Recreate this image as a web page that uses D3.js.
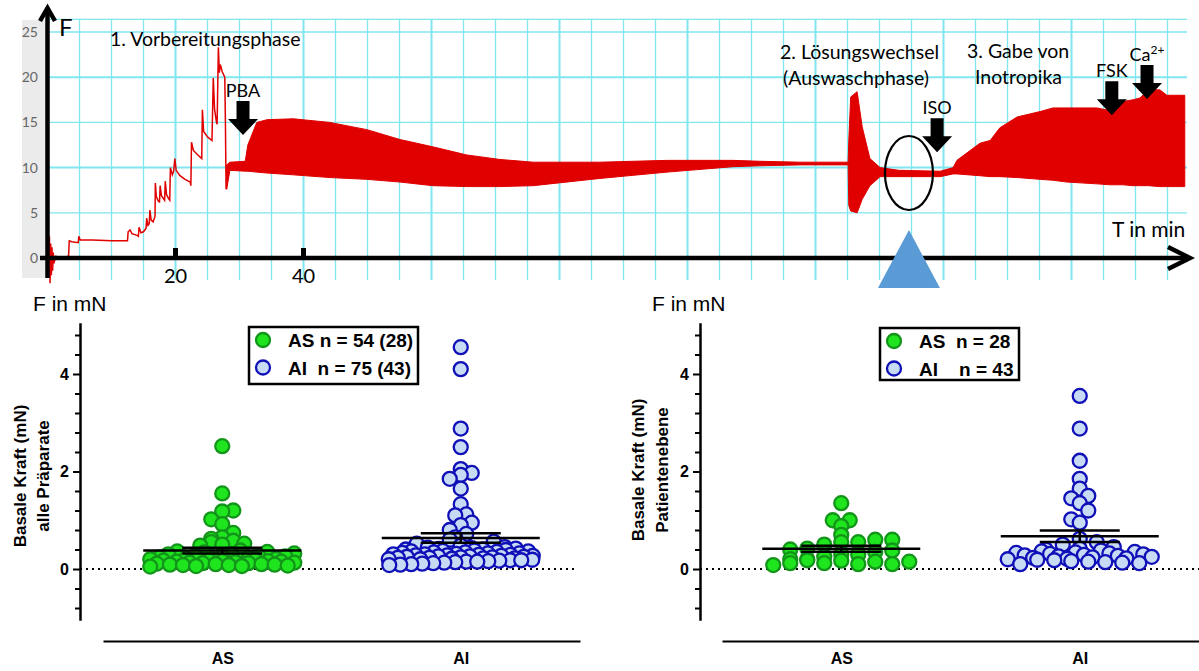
<!DOCTYPE html>
<html>
<head>
<meta charset="utf-8">
<script src="https://cdn.jsdelivr.net/npm/d3@7"></script>
<style>
  body { margin: 0; background: #fff; }
  svg { display: block; }
  text { white-space: pre; }
</style>
</head>
<body>
<script>
// ---------- top trace data (time in min, force) ----------
var prepTrace = [
  [0,0],[0.1,1.8],[0.2,-2.2],[0.3,2.4],[0.4,-2.8],[0.5,1.6],[0.6,-1.9],[0.7,1.2],[0.8,-1.4],[0.9,0.6],
  [1.0,-0.6],[1.3,0.2],[2.0,0],[3.0,0],[3.3,0.3],[3.4,1.9],[3.8,1.8],[4.8,1.7],[4.9,2.4],[5.1,2.0],
  [7,2.0],[10,1.9],[12.5,1.9],[12.6,2.9],[12.9,3.1],[13.2,2.7],[14.0,2.5],[14.2,2.4],[14.3,3.4],[14.6,2.8],
  [15.0,2.9],[15.4,3.3],[15.5,4.4],[15.7,3.6],[15.9,3.8],[16.0,5.3],[16.2,4.2],[16.5,4.0],[16.8,4.6],[16.85,8.3],
  [17.0,6.8],[17.3,6.3],[17.5,6.2],[17.6,8.0],[17.8,6.9],[18.3,6.4],[18.4,8.5],[18.6,7.0],[18.9,6.6],[19.1,6.4],
  [19.2,10.0],[19.5,9.2],[19.7,9.6],[19.9,11.0],[20.1,9.7],[20.7,9.1],[21.5,8.7],[22.3,8.4],[22.4,8.0],[22.5,12.8],
  [22.8,11.9],[23.5,11.4],[24.1,11.0],[24.2,16.4],[24.4,14.0],[25.0,13.4],[25.7,13.0],[25.9,19.9],[26.1,16.5],[26.4,15.0],
  [26.5,14.8],[26.7,23.3],[26.85,20.5],[27.0,21.4],[27.3,20.6],[27.7,20.0],[27.8,15],[27.9,7.6],[28.0,9.8]
];
// envelope of the oscillating part
var bandT  = [28.0,28.5,30.9,31.3,32.7,34.3,38.4,44.1,49.9,55.1,60.2,65.5,70.7,75.9,86.3,96.8,107.1,111.3,117.6,125.1,
              125.2,125.5,126.5,127.3,128.5,130.1,133.0,139.5,141.5,142.1,145.7,147.3,148.8,151.5,155.1,157.1,159.3,164.0,166.0,168.0,
              169.6,170.7,172.0,173.8,174.9,177.7];
var bandHi = [10.3,10.6,10.7,12.5,15.0,15.3,15.4,15.0,14.2,13.1,12.3,11.4,10.9,10.6,10.6,10.8,10.8,10.7,10.6,10.6,
              13.0,17.8,18.4,14.5,11.0,10.0,9.7,9.6,10.0,10.8,12.7,13.0,14.4,15.6,16.2,16.6,16.6,16.6,16.3,17.3,
              17.5,17.7,18.6,18.6,18.0,18.0];
var bandLo = [7.6,9.7,9.6,9.6,9.5,9.4,9.2,8.9,8.7,8.4,8.0,7.9,7.9,8.0,8.8,9.5,10.1,10.2,10.3,10.3,
              5.8,5.2,5.0,6.5,8.0,9.0,9.0,9.0,9.3,9.3,9.1,9.0,9.0,8.9,8.7,8.6,8.4,8.2,8.1,8.1,
              8.0,8.0,8.0,7.9,7.9,7.9];
var forceTicks = [0, 5, 10, 15, 20, 25];
var timeLabels = [20, 40];
var events = [
  {label: "PBA", t: 30.55, f: 13.6},
  {label: "ISO", t: 139.0, f: 11.7},
  {label: "FSK", t: 166.3, f: 15.8},
  {label: "Ca",  t: 171.8, f: 17.6, sup: "2+"}
];
var washMark = {t: 134.6, f: 9.4};

// ---------- bottom scatter data (mN) ----------
var groups = ["AS", "AI"];
var allAS = [2.52,1.55,1.20,1.18,1.02,0.92,0.74,0.65,0.62,0.58,0.55,0.52,0.50,0.48,
  0.38,0.36,0.35,0.34,0.32,0.30,0.30,0.28,0.27,0.26,0.25,0.24,0.23,0.22,0.21,0.20,0.20,0.19,0.18,0.17,
  0.16,0.16,0.15,0.15,0.14,0.13,0.13,0.12,0.12,0.11,0.10,0.10,0.09,0.09,0.08,0.08,0.07,0.06,0.06,0.05];
var allAI = [4.55,4.10,2.88,2.50,2.05,1.97,1.93,1.85,1.65,1.33,1.12,1.10,0.95,0.90,0.80,0.72,0.65,0.60,0.56,0.52,0.48,
  0.45,0.44,0.43,0.42,0.41,0.40,0.40,0.39,0.38,0.37,0.36,0.36,0.35,0.34,0.34,0.33,0.32,0.32,0.31,0.30,
  0.30,0.29,0.29,0.28,0.28,0.27,0.27,0.26,0.26,0.25,0.25,0.24,0.24,0.23,0.23,0.22,0.22,0.21,0.20,0.20,
  0.19,0.18,0.18,0.17,0.16,0.15,0.15,0.14,0.13,0.12,0.11,0.10,0.09,0.08];
var patAS = [1.35,1.00,1.00,0.88,0.70,0.60,0.60,0.55,0.55,0.50,0.42,0.40,0.38,0.35,
  0.30,0.30,0.25,0.20,0.20,0.18,0.17,0.15,0.15,0.12,0.12,0.10,0.10,0.08];
var patAI = [3.55,2.88,2.22,1.85,1.65,1.50,1.45,1.35,1.20,1.02,0.95,0.62,0.55,0.50,0.45,
  0.42,0.40,0.38,0.36,0.35,0.34,0.33,0.32,0.31,0.30,0.29,0.28,0.27,0.26,0.25,0.24,0.23,0.22,0.21,0.20,
  0.19,0.18,0.16,0.15,0.14,0.13,0.12,0.10];
var legendAll = ["AS n = 54 (28)", "AI  n = 75 (43)"];
var legendPat = ["AS  n = 28", "AI    n = 43"];
var majorTicks = [0, 2, 4];
var minorTicks = [-0.8,-0.4,0.4,0.8,1.2,1.6,2.4,2.8,3.2,3.6,4.4,4.8];

var RED = "#e00000", GRID = "#80e6f0";
var colors = {
  AS: {fill: "#1fe51f", stroke: "#13951a"},
  AI: {fill: "#c7dbf4", stroke: "#1010b8"}
};

var svg = d3.select("body").append("svg").attr("width", 1199).attr("height", 671);

// =============== top panel ===============
var x = d3.scaleLinear().domain([0, 175]).range([47.5, 1167.5]);
var y = d3.scaleLinear().domain([0, 25]).range([258, 32]);
var tp = svg.append("g").style("font-family", "Lato, 'Open Sans', sans-serif");

tp.append("rect").attr("x", 22).attr("y", 20).attr("width", 25).attr("height", 258).attr("fill", "#ebebeb");

// grid
tp.append("g").selectAll("line").data(d3.range(5, 180, 5)).join("line")
    .attr("x1", function(d) { return x(d); }).attr("x2", function(d) { return x(d); })
    .attr("y1", 19).attr("y2", 280)
    .attr("stroke", GRID).attr("stroke-width", function(d) { return d % 20 === 0 ? 2 : 1.3; });
tp.append("g").selectAll("line").data([5, 10, 15, 20, 25, 26.4]).join("line")
    .attr("x1", 47).attr("x2", 1187)
    .attr("y1", function(d) { return y(d); }).attr("y2", function(d) { return y(d); })
    .attr("stroke", GRID).attr("stroke-width", function(d) { return d % 10 === 0 ? 2 : 1.3; });

tp.append("g").selectAll("text").data(forceTicks).join("text")
    .attr("x", 38).attr("y", function(d) { return y(d) + 5; })
    .attr("text-anchor", "end").attr("font-size", 14).attr("fill", "#666")
    .text(function(d) { return d; });

// trace
var band = d3.range(bandT.length).map(function(i) { return {t: bandT[i], hi: bandHi[i], lo: bandLo[i]}; });
tp.append("path").datum(band)
    .attr("d", d3.area().x(function(d) { return x(d.t); }).y0(function(d) { return y(d.lo); }).y1(function(d) { return y(d.hi); }))
    .attr("fill", RED).attr("stroke", RED).attr("stroke-width", 1);
tp.append("path").datum(prepTrace)
    .attr("d", d3.line().x(function(d) { return x(d[0]); }).y(function(d) { return y(d[1]); }))
    .attr("fill", "none").attr("stroke", RED).attr("stroke-width", 1.5);

// axes with arrows
tp.append("line").attr("x1", 40).attr("x2", 1189).attr("y1", y(0)).attr("y2", y(0))
    .attr("stroke", "#000").attr("stroke-width", 4.5);
tp.append("path").attr("d", "M1168,247L1190," + y(0) + "L1168,269")
    .attr("fill", "none").attr("stroke", "#000").attr("stroke-width", 4.5);
tp.append("line").attr("x1", 47.5).attr("x2", 47.5).attr("y1", 278).attr("y2", 8)
    .attr("stroke", "#000").attr("stroke-width", 4.5);
tp.append("path").attr("d", "M40,21L47.5,8L55,21")
    .attr("fill", "none").attr("stroke", "#000").attr("stroke-width", 4.5);
tp.selectAll(".tmark").data(timeLabels).join("rect").attr("class", "tmark")
    .attr("x", function(d) { return x(d) - 2.5; }).attr("y", 248).attr("width", 5).attr("height", 10);
tp.selectAll(".tlab").data(timeLabels).join("text").attr("class", "tlab")
    .attr("x", function(d) { return x(d); }).attr("y", 283)
    .attr("text-anchor", "middle").attr("font-size", 20).text(function(d) { return d; });

tp.append("text").attr("x", 59).attr("y", 36).attr("font-size", 24).text("F");
tp.append("text").attr("x", 1112).attr("y", 237).attr("font-size", 21).text("T in min");

var phaseText = [
  {x: 110, y: 46, s: "1. Vorbereitungsphase"},
  {x: 780, y: 59, s: "2. Lösungswechsel"},
  {x: 783, y: 85, s: "(Auswaschphase)"},
  {x: 967, y: 58, s: "3. Gabe von"},
  {x: 975, y: 84, s: "Inotropika"}
];
tp.selectAll(".phase").data(phaseText).join("text").attr("class", "phase")
    .attr("x", function(d) { return d.x; }).attr("y", function(d) { return d.y; })
    .attr("font-size", 19.5).text(function(d) { return d.s; });

// event arrows
events.forEach(function(e) {
  var tx = x(e.t), ty = y(e.f);
  var hl = 16, hw = 15, sw = 6.5, sl = 18;
  tp.append("path")
      .attr("d", "M" + tx + "," + ty + "L" + (tx - hw) + "," + (ty - hl) + "L" + (tx - sw) + "," + (ty - hl) +
                 "L" + (tx - sw) + "," + (ty - hl - sl) + "L" + (tx + sw) + "," + (ty - hl - sl) +
                 "L" + (tx + sw) + "," + (ty - hl) + "L" + (tx + hw) + "," + (ty - hl) + "Z")
      .attr("fill", "#000");
  var t = tp.append("text").attr("x", tx).attr("y", ty - hl - sl - 4)
      .attr("text-anchor", "middle").attr("font-size", 18).text(e.label);
  if (e.sup) t.append("tspan").attr("font-size", 12).attr("dy", -7).text(e.sup);
});

// wash-out marker
tp.append("ellipse").attr("cx", x(washMark.t)).attr("cy", y(washMark.f)).attr("rx", 24).attr("ry", 37)
    .attr("fill", "none").attr("stroke", "#000").attr("stroke-width", 2.2);
tp.append("path")
    .attr("d", "M" + x(washMark.t) + ",230L" + (x(washMark.t) + 31) + ",288L" + (x(washMark.t) - 31) + ",288Z")
    .attr("fill", "#5b9bd5");

// =============== bottom panels ===============
// binned scatter layout: points of similar value sit side by side in a row
function spread(values, cx, ys, step, maxHalf, binSize) {
  var bins = d3.groups(values, function(v) { return Math.floor(v / binSize); });
  var out = [];
  bins.forEach(function(b) {
    var vs = b[1].slice().sort(d3.ascending);
    var n = vs.length;
    var s = n > 1 ? Math.min(step, 2 * maxHalf / (n - 1)) : 0;
    // slots from left to right, filled in an interleaved order
    var slots = d3.range(n).map(function(i) { return (i - (n - 1) / 2) * s; });
    vs.forEach(function(v, i) {
      var slot = (i * 7) % n;
      if (n % 7 === 0) slot = i;
      out.push({v: v, y: ys(v), x: cx + slots[slot]});
    });
  });
  out.sort(function(a, b) { return b.v - a.v; });
  return out;
}

function drawPanel(p) {
  var g = svg.append("g").style("font-family", "'Liberation Sans', Arial, sans-serif");
  var ys = d3.scaleLinear().domain([-1.05, 5.05]).range([620.2, 322.8]);
  var xs = d3.scalePoint().domain(groups).range([p.x0, p.x1]).padding(0.5);

  g.append("text").attr("x", p.fx).attr("y", 311).attr("font-size", 21).text("F in mN");

  var ya = g.append("g").attr("transform", "translate(" + p.axisX + ",0)")
      .call(d3.axisLeft(ys).tickValues(majorTicks).tickFormat(d3.format("d")).tickSize(7).tickSizeOuter(0).tickPadding(4));
  ya.select(".domain").attr("stroke-width", 2.5);
  ya.selectAll(".tick line").attr("stroke-width", 2);
  ya.selectAll(".tick text").attr("font-size", 16).attr("font-weight", "bold").attr("font-family", "'Liberation Sans', Arial, sans-serif");
  var ym = g.append("g").attr("transform", "translate(" + p.axisX + ",0)")
      .call(d3.axisLeft(ys).tickValues(minorTicks).tickFormat("").tickSize(5).tickSizeOuter(0));
  ym.select(".domain").remove();
  ym.selectAll(".tick line").attr("stroke-width", 2);

  p.titles.forEach(function(t, i) {
    g.append("text").attr("transform", "translate(" + p.titleX[i] + "," + p.titleY + ") rotate(-90)")
        .attr("text-anchor", "middle").attr("dy", "0.35em")
        .attr("font-size", 17).attr("font-weight", "bold").text(t);
  });

  g.append("line").attr("x1", p.axisX).attr("x2", p.zeroEnd).attr("y1", ys(0)).attr("y2", ys(0))
      .attr("stroke", "#000").attr("stroke-width", 2).attr("stroke-dasharray", "2,4");

  var xa = g.append("g").attr("transform", "translate(0,641)")
      .call(d3.axisBottom(xs).tickSize(0).tickSizeOuter(0).tickPadding(12));
  xa.select(".domain").attr("stroke-width", 2);
  xa.selectAll(".tick text").attr("font-size", 16).attr("font-weight", "bold").attr("font-family", "'Liberation Sans', Arial, sans-serif");

  groups.forEach(function(grp, gi) {
    var vals = p.data[gi];
    var cx = xs(grp);
    var pts = spread(vals, cx, ys, p.step, 72, 0.2);
    g.append("g").selectAll("circle").data(pts).join("circle")
        .attr("cx", function(d) { return d.x; }).attr("cy", function(d) { return d.y; }).attr("r", 7)
        .attr("fill", colors[grp].fill).attr("stroke", colors[grp].stroke).attr("stroke-width", 2.3);
    var m = d3.mean(vals), se = d3.deviation(vals) / Math.sqrt(vals.length);
    g.append("line").attr("x1", cx - 79).attr("x2", cx + 79).attr("y1", ys(m)).attr("y2", ys(m))
        .attr("stroke", "#000").attr("stroke-width", 2.5);
    [m - se, m + se].forEach(function(v) {
      g.append("line").attr("x1", cx - 40).attr("x2", cx + 40).attr("y1", ys(v)).attr("y2", ys(v))
          .attr("stroke", "#000").attr("stroke-width", 2.5);
    });
    g.append("line").attr("x1", cx).attr("x2", cx).attr("y1", ys(m - se)).attr("y2", ys(m + se))
        .attr("stroke", "#000").attr("stroke-width", 2.5);
  });

  // legend
  var lg = g.append("g");
  lg.append("rect").attr("x", p.legend.x).attr("y", p.legend.y).attr("width", p.legend.w).attr("height", p.legend.h)
      .attr("fill", "#fff").attr("stroke", "#000").attr("stroke-width", 2.5);
  groups.forEach(function(grp, gi) {
    var cy = p.legend.y + 13 + gi * 27.5;
    lg.append("circle").attr("cx", p.legend.x + 14).attr("cy", cy).attr("r", 7)
        .attr("fill", colors[grp].fill).attr("stroke", colors[grp].stroke).attr("stroke-width", 2.3);
    lg.append("text").attr("x", p.legend.x + 39).attr("y", cy + 7)
        .attr("font-size", 19).attr("font-weight", "bold").text(p.legendText[gi]);
  });
}

drawPanel({
  x0: 103, x1: 580, axisX: 80, zeroEnd: 578, fx: 33,
  titles: ["Basale Kraft (mN)", "alle Präparate"], titleX: [20, 43], titleY: 476,
  data: [allAS, allAI], step: 11, legendText: legendAll,
  legend: {x: 249, y: 327, w: 169, h: 57}
});
drawPanel({
  x0: 722, x1: 1199, axisX: 700, zeroEnd: 1199, fx: 652,
  titles: ["Basale Kraft (mN)", "Patientenebene"], titleX: [638, 662], titleY: 470,
  data: [patAS, patAI], step: 17, legendText: legendPat,
  legend: {x: 880, y: 328, w: 139, h: 52}
});
</script>
</body>
</html>
